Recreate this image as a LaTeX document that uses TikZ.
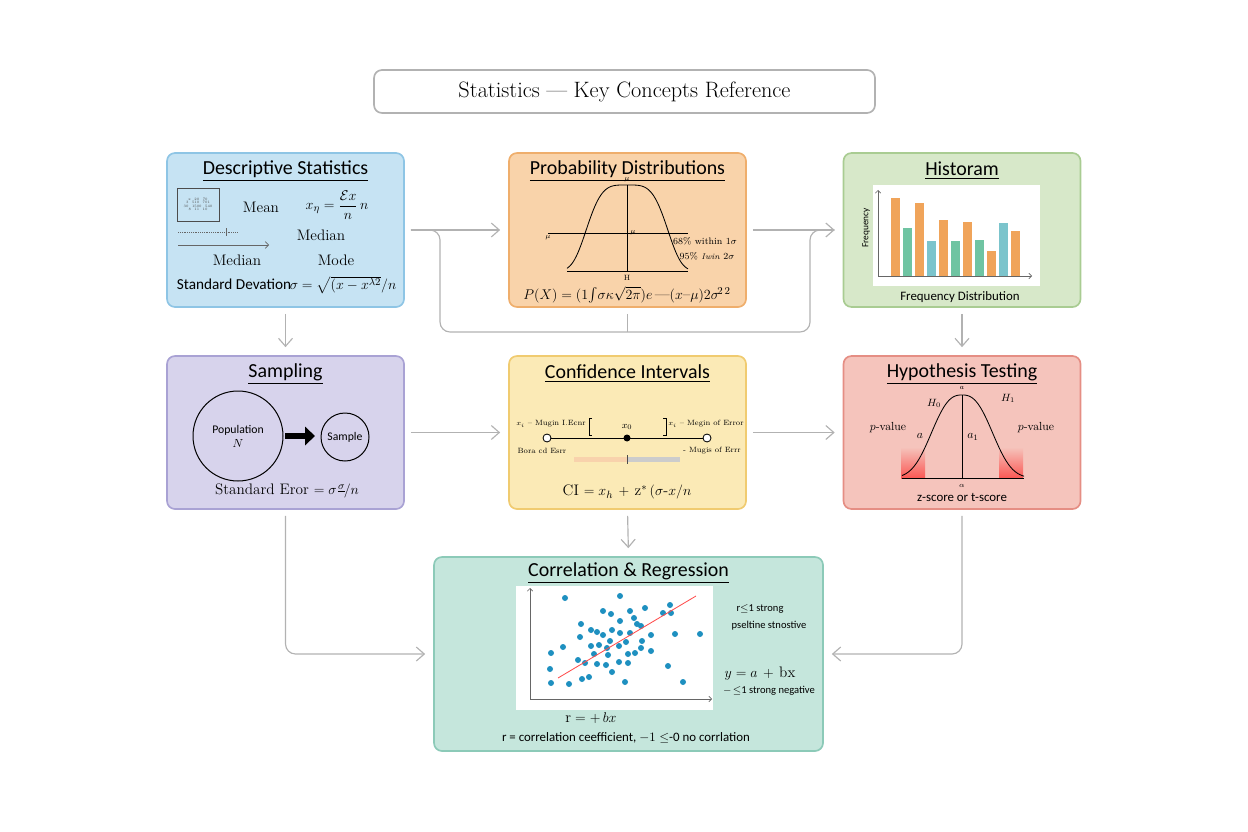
\documentclass[tikz,border=0pt]{standalone}
\usepackage{amsmath}
\usepackage{fontspec}
\newfontfamily\hsans{Carlito}
\usetikzlibrary{arrows.meta}
\definecolor{descbg}{HTML}{C6E3F3}\definecolor{descln}{HTML}{8EC5E5}
\definecolor{probbg}{HTML}{F9D3AA}\definecolor{probln}{HTML}{EFAE6C}
\definecolor{histbg}{HTML}{D7E8C9}\definecolor{histln}{HTML}{A9CC92}
\definecolor{sampbg}{HTML}{D7D3EC}\definecolor{sampln}{HTML}{A9A2D4}
\definecolor{confbg}{HTML}{FBEAB6}\definecolor{confln}{HTML}{F0CB70}
\definecolor{hypbg}{HTML}{F5C4BC}\definecolor{hypln}{HTML}{E58E84}
\definecolor{corrbg}{HTML}{C5E6DC}\definecolor{corrln}{HTML}{8CCAB8}
\definecolor{barO}{HTML}{F0A45A}\definecolor{barG}{HTML}{6FC4A2}\definecolor{barB}{HTML}{7BC4CC}
\definecolor{dotc}{HTML}{1E90C0}
\tikzset{
  box/.style={draw, rounded corners=2.4mm, line width=0.5mm, minimum width=71.1mm, minimum height=46.2mm},
  conn/.style={draw=black!30, line width=0.35mm, shorten <=1.8mm, shorten >=2.4mm},
  tip/.style={-{Straight Barb[length=2.4mm, width=4.2mm]}},
  head/.style={font=\hsans\fontsize{17}{17}\selectfont},
  txt/.style={font=\fontsize{13}{13}\selectfont},
  sm/.style={font=\fontsize{6.5}{7}\selectfont},
}
\begin{document}
\begin{tikzpicture}[x=0.3mm, y=-0.3mm]
	\useasboundingbox (0,0) rectangle (1248,832);
	% boxes
	\node[box, draw=black!30, fill=white, minimum width=150.3mm, minimum height=12.9mm] (title) at (624.5,91.5) {};
	\node[font=\fontsize{19}{19}\selectfont] (titletxt) at (624.5,92) {Statistics --- Key Concepts Reference};
	\node[box, draw=descln, fill=descbg] (desc) at (285.5,230) {};
	\node[box, draw=probln, fill=probbg] (prob) at (627.5,230) {};
	\node[box, draw=histln, fill=histbg] (hist) at (962,230) {};
	\node[box, draw=sampln, fill=sampbg, minimum height=45.9mm] (samp) at (285.5,432.5) {};
	\node[box, draw=confln, fill=confbg, minimum height=45.9mm] (conf) at (627.5,432.5) {};
	\node[box, draw=hypln, fill=hypbg, minimum height=45.9mm] (hyp) at (962,432.5) {};
	\node[box, draw=corrln, fill=corrbg, minimum width=116.7mm, minimum height=58.2mm] (corr) at (628.5,654) {};

	% connectors
	\coordinate (loopL) at (440,332);
	\coordinate (loopR) at (810,332);
	\draw[conn, tip] (desc.east) -- (prob.west);
	\draw[conn, tip] (prob.east) -- (hist.west);
	\draw[conn, rounded corners=3mm] (desc.east) -| (loopL) -- (loopR) |- (hist.west);
	\draw[conn, shorten >=0mm] (prob.south) -- (prob.south |- loopL);
	\draw[conn, tip] (desc.south) -- (samp.north);
	\draw[conn, tip] (hist.south) -- (hyp.north);
	\draw[conn, tip] (samp.east) -- (conf.west);
	\draw[conn, tip] (conf.east) -- (hyp.west);
	\draw[conn, tip] (conf.south) -- (corr.north);
	\draw[conn, tip, rounded corners=3mm] (samp.south) |- (corr.west);
	\draw[conn, tip, rounded corners=3mm] (hyp.south) |- (corr.east);

	% Descriptive Statistics
	\node[head] (deschd) at (285.5,171) {\underline{Descriptive Statistics}};
	\draw[black!70, line width=0.2mm] (177,188) rectangle (219,221);
	\node[font=\fontsize{3}{3}\selectfont, text=black!70, align=center] (desctab) at (198,204.5) {x\quad 20\quad 70\\3\quad 510\quad 701\\30\quad 1500\quad 540\\8\quad 11\quad 10};
	\node[txt] (mean) at (261,207) {Mean};
	\node[txt] (meanf) at (337,205) {$x_{\eta}=\dfrac{\mathcal{E}x}{n}\,n$};
	\draw[black!60, densely dotted, line width=0.2mm] (178,232) -- (237,232);
	\draw[black!60, line width=0.2mm] (226,228) -- (226,236);
	\draw[black!60, line width=0.2mm, -{Straight Barb[length=1mm]}] (178,245) -- (269,245);
	\node[txt] (med1) at (321,235) {Median};
	\node[txt] (med2) at (237,260) {Median};
	\node[txt] (mode) at (336,260) {Mode};
	\node[txt, font=\hsans\fontsize{13}{13}\selectfont] (sd) at (234,284) {Standard Devation};
	\node[txt] (sdf) at (343,285) {$\sigma=\sqrt{(x-x^{\lambda 2}}/n$};

	% Probability Distributions
	\node[head] (probhd) at (627.5,171) {\underline{Probability Distributions}};
	\draw[line width=0.25mm] (548,233) -- (688,233);
	\draw[line width=0.25mm] (627,185) -- (627,272);
	\draw[line width=0.25mm] (567,271) -- (688,271);
	\draw[line width=0.25mm] plot[domain=567:688, samples=80] (\x,{271-86*exp(-((\x-627)/44)^4)});
	\node[sm] (mu1) at (627,180) {$\mu$};
	\node[sm] (mu2) at (548,238) {$\mu$};
	\node[sm] (mu3) at (633,233) {$\mu$};
	\node[sm] (mu4) at (627,278) {H};
	\node[font=\fontsize{8}{8}\selectfont] (p68) at (705,241) {68\% within 1$\sigma$};
	\node[font=\fontsize{8}{8}\selectfont] (p95) at (707,256) {95\% \textit{\fontsize{7}{7}\selectfont Iwin} 2$\sigma$};
	\node[txt] (probf) at (627,295) {$P(X)=(1\!\int\!\sigma\kappa\sqrt{2\pi})e\,\text{---}(x\text{--}\mu)2\sigma^{\!2\,2}$};

	% Histogram
	\node[head] (histhd) at (962,171) {\underline{Historam}};
	\fill[white] (873,185) rectangle (1040,286);
	\draw[black!60, line width=0.2mm, -{Straight Barb[length=0.8mm]}] (878,276) -- (878,190);
	\draw[black!60, line width=0.2mm, -{Straight Barb[length=0.8mm]}] (878,276) -- (1032,276);
	\foreach \x/\t/\c in {891/198/barO, 903/228/barG, 915/203/barO, 927/241/barB, 939/220/barO, 951/241/barG, 963/222/barO, 975/240/barG, 987/251/barO, 999/223/barB, 1011/231/barO}
		\fill[\c] (\x,\t) rectangle (\x+9,276);
	\node[rotate=90, font=\hsans\fontsize{8}{8}\selectfont] (freq) at (866,228) {Frequency};
	\node[txt, font=\hsans\fontsize{11}{11}\selectfont] (histcap) at (960,297) {Frequency Distribution};

	% Sampling
	\node[head] (samphd) at (285.5,374) {\underline{Sampling}};
	\node[circle, draw, line width=0.3mm, minimum size=27mm, align=center, font=\hsans\fontsize{10}{12}\selectfont] (pop) at (238,436) {Population\\$N$};
	\node[circle, draw, line width=0.3mm, minimum size=14.4mm, font=\hsans\fontsize{10}{10}\selectfont] (smpl) at (345,437) {Sample};
	\draw[line width=1.6mm, -{Triangle[length=3mm, width=5.5mm]}] (285,436) -- (315,436);
	\node[txt] (se) at (287,492) {Standard Eror $=\sigma\frac{\sigma}{}\!/n$};

	% Confidence Intervals
	\node[head] (confhd) at (627.5,374) {\underline{Confidence Intervals}};
	\draw[line width=0.3mm] (547,438) -- (707,438);
	\draw[line width=0.25mm, fill=white] (547,438) circle (4);
	\draw[line width=0.25mm, fill=white] (707,438) circle (4);
	\fill (627,438) circle (3.5);
	\draw[line width=0.3mm] (592,418) -- (589,418) -- (589,435) -- (592,435);
	\draw[line width=0.3mm] (663,418) -- (666,418) -- (666,435) -- (663,435);
	\node[font=\fontsize{8}{8}\selectfont] (x0) at (627,427) {$x_0$};
	\node[sm] (cil) at (551,424) {$x_i$ -- Mugin I.Ecnr};
	\node[sm] (cir) at (706,424) {$x_{i}$ -- Megin of Error};
	\node[sm] (cibl) at (542,451) {Bora cd Esrr};
	\node[sm] (cibr) at (712,451) {- Mugis of Errr};
	\fill[barO!50] (574,457) rectangle (627,462);
	\fill[black!20] (627,457) rectangle (680,462);
	\draw[black!70, line width=0.3mm] (627,455) -- (627,464);
	\node[txt] (cif) at (627,492) {CI $=x_{h}\,+\,\mathrm{z}^{*}\,(\sigma\text{-}x/n$};

	% Hypothesis Testing
	\node[head] (hyphd) at (962,374) {\underline{Hypothesis Testing}};
	\shade[top color=hypbg, bottom color=red!55!hypbg] (901,447) rectangle (925,478);
	\shade[top color=hypbg, bottom color=red!55!hypbg] (999,447) rectangle (1023,478);
	\draw[line width=0.25mm] (962,395) -- (962,478);
	\draw[line width=0.25mm] (902,478) -- (1024,478);
	\draw[line width=0.25mm] plot[domain=902:1024, samples=80] (\x,{478-83*exp(-(abs(\x-962)/37)^2.6)});
	\node[sm] (hypa) at (962,388) {$a$};
	\node[font=\fontsize{9}{9}\selectfont] (h0) at (934,403) {$H_0$};
	\node[font=\fontsize{9}{9}\selectfont] (h1) at (1008,398) {$H_1$};
	\node[font=\fontsize{10}{10}\selectfont] (pvl) at (888,428) {$p$-value};
	\node[font=\fontsize{10}{10}\selectfont] (pvr) at (1036,428) {$p$-value};
	\node[font=\fontsize{10}{10}\selectfont] (al) at (920,436) {$a$};
	\node[font=\fontsize{10}{10}\selectfont] (a1) at (973,437) {$a_1$};
	\node[sm] (alpha) at (962,486) {$\alpha$};
	\node[font=\hsans\fontsize{11}{11}\selectfont] (zt) at (962,497) {z-score or t-score};

	% Correlation & Regression
	\node[head] (corrhd) at (628.5,573) {\underline{Correlation \& Regression}};
	\fill[white] (516,586) rectangle (713,710);
	\draw[black!60, line width=0.2mm, -{Straight Barb[length=0.8mm]}] (530,699) -- (530,588);
	\draw[black!60, line width=0.2mm, -{Straight Barb[length=0.8mm]}] (530,699) -- (712,699);
	\foreach \x/\y in {565/598, 620/596, 603/611, 611/614, 630/611, 645/608, 670/605, 663/613, 671/613, 634/618, 581/624, 620/621, 637/624, 641/626, 591/630, 597/632, 612/630, 630/633, 651/635, 675/634, 700/634, 580/637, 603/635, 620/633, 610/641, 563/647, 591/646, 599/645, 607/648, 619/646, 626/642, 642/641, 551/653, 594/654, 608/655, 628/654, 635/653, 641/648, 651/651, 578/660, 585/663, 597/664, 606/665, 619/662, 628/663, 550/669, 612/672, 668/666, 589/677, 582/679, 551/683, 569/684, 625/682, 683/682}
		\fill[dotc] (\x,\y) circle (3);
	\draw[red!70, line width=0.25mm] (558,678) -- (696,596);
	\node[font=\hsans\fontsize{9}{9}\selectfont] (rs) at (760,609) {r$\leq$1 strong};
	\node[font=\hsans\fontsize{9}{9}\selectfont] (rp) at (769,626) {pseltine stnostive};
	\node[txt] (yab) at (760,674) {$y=a\,+\,\mathrm{bx}$};
	\node[font=\hsans\fontsize{9}{9}\selectfont] (rn) at (769,691) {$-\!\leq$1 strong negative};
	\node[txt] (rbx) at (591,718) {$\mathrm{r}=+\,bx$};
	\node[font=\hsans\fontsize{11}{11}\selectfont] (rdef) at (626,738) {r = correlation ceefficient, $-1\leq$-0 no corrlation};
\end{tikzpicture}
\end{document}
